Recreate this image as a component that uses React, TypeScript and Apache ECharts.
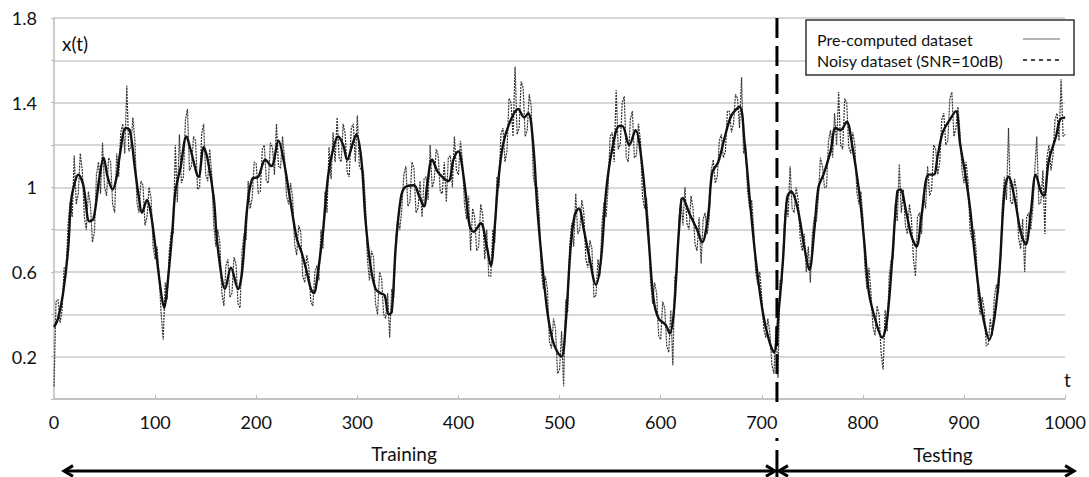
import React, { useEffect, useRef } from "react";
import * as echarts from "echarts";

// Pre-computed (clean) series: key points
const cleanT = [0, 4, 9, 14, 17, 21, 24, 29, 35, 39, 45, 49, 53, 58, 62, 65, 71, 75, 80, 84, 87, 92, 96, 101, 106, 109, 112, 117, 120, 125, 131, 135, 143, 148, 152, 158, 161, 166, 169, 175, 182, 186, 191, 196, 202, 209, 215, 222, 227, 233, 240, 245, 250, 254, 257, 261, 266, 271, 276, 281, 286, 290, 295, 299, 304, 308, 313, 318, 323, 327, 331, 334, 338, 343, 347, 356, 361, 366, 369, 374, 380, 390, 395, 400, 402, 407, 411, 415, 422, 428, 432, 436, 439, 444, 451, 459, 465, 469, 474, 478, 483, 488, 493, 498, 502, 506, 511, 515, 519, 524, 529, 536, 541, 546, 552, 559, 562, 569, 575, 582, 588, 593, 598, 605, 609, 613, 618, 622, 629, 636, 641, 647, 651, 657, 663, 670, 678, 683, 688, 694, 701, 707, 712, 717, 721, 725, 729, 735, 742, 747, 752, 756, 761, 768, 773, 778, 784, 789, 796, 801, 806, 812, 819, 824, 829, 834, 837, 843, 848, 853, 858, 865, 870, 874, 879, 886, 892, 896, 901, 906, 910, 915, 920, 925, 930, 935, 940, 944, 950, 956, 961, 966, 971, 976, 979, 984, 991, 995, 1000];
const cleanV = [0.34, 0.38, 0.5, 0.71, 0.94, 1.03, 1.06, 1.01, 0.84, 0.85, 1.05, 1.14, 1.05, 0.99, 1.05, 1.15, 1.28, 1.27, 1.09, 0.95, 0.88, 0.94, 0.87, 0.69, 0.5, 0.43, 0.53, 0.79, 0.98, 1.09, 1.24, 1.18, 1.05, 1.19, 1.13, 0.95, 0.76, 0.57, 0.52, 0.62, 0.52, 0.6, 0.9, 1.04, 1.05, 1.13, 1.1, 1.22, 1.13, 0.96, 0.76, 0.69, 0.6, 0.52, 0.5, 0.6, 0.79, 1.05, 1.18, 1.24, 1.2, 1.13, 1.2, 1.25, 1.13, 0.85, 0.63, 0.52, 0.5, 0.49, 0.4, 0.41, 0.72, 0.95, 1.0, 1.01, 0.96, 0.91, 1.01, 1.13, 1.07, 1.03, 1.13, 1.17, 1.15, 0.98, 0.82, 0.79, 0.83, 0.72, 0.63, 0.82, 1.01, 1.2, 1.31, 1.37, 1.33, 1.35, 1.2, 0.9, 0.63, 0.41, 0.28, 0.22, 0.2, 0.35, 0.72, 0.87, 0.9, 0.8, 0.68, 0.54, 0.66, 0.98, 1.18, 1.29, 1.29, 1.2, 1.27, 1.09, 0.76, 0.47, 0.38, 0.35, 0.31, 0.41, 0.79, 0.95, 0.87, 0.8, 0.74, 0.87, 1.07, 1.12, 1.23, 1.34, 1.38, 1.21, 0.95, 0.66, 0.41, 0.28, 0.22, 0.43, 0.66, 0.95, 0.98, 0.91, 0.72, 0.61, 0.8, 1.0, 1.06, 1.17, 1.28, 1.27, 1.31, 1.21, 0.99, 0.76, 0.5, 0.38, 0.29, 0.38, 0.66, 0.98, 0.99, 0.88, 0.77, 0.72, 0.87, 1.06, 1.06, 1.15, 1.26, 1.32, 1.36, 1.21, 1.07, 0.9, 0.71, 0.5, 0.36, 0.28, 0.38, 0.6, 0.98, 1.05, 0.95, 0.79, 0.73, 0.88, 1.06, 0.98, 0.96, 1.13, 1.24, 1.32, 1.33];

// Noisy series (SNR = 10 dB): one value every NOISY_STEP time steps
const NOISY_STEP = 2;
const noisyV = [
  0.06, 0.46, 0.47, 0.36, 0.42, 0.62, 0.61, 0.83, 0.93, 0.86, 1.15, 0.92, 0.97, 1.16, 1.08, 0.86, 0.8, 0.98, 0.92, 0.74, 0.79, 1.06, 1.12, 0.97, 1.21,
  1.0, 0.96, 1.14, 1.12, 0.92, 0.88, 1.16, 1.05, 1.26, 1.3, 1.16, 1.48, 1.17, 1.19, 1.33, 1.22, 0.93, 0.88, 1.03, 1.01, 0.82, 0.86, 1.0, 0.95, 0.72,
  0.66, 0.72, 0.58, 0.4, 0.28, 0.55, 0.47, 0.7, 0.79, 0.78, 1.2, 0.93, 1.25, 1.02, 1.05, 1.32, 1.37, 1.08, 1.1, 1.24, 1.22, 0.99, 1.0, 1.25, 1.3,
  1.06, 1.03, 1.18, 1.06, 0.82, 0.72, 0.8, 0.74, 0.5, 0.44, 0.63, 0.66, 0.48, 0.5, 0.67, 0.64, 0.45, 0.43, 0.7, 0.78, 0.75, 1.03, 0.9, 0.95, 1.12,
  1.11, 0.97, 0.98, 1.18, 1.2, 1.03, 1.02, 1.21, 1.19, 1.06, 1.3, 1.1, 1.09, 1.24, 1.14, 0.96, 0.92, 1.02, 0.95, 0.73, 0.68, 0.82, 0.79, 0.58, 0.55,
  0.68, 0.62, 0.46, 0.44, 0.6, 0.63, 0.56, 0.8, 0.71, 0.98, 0.88, 1.19, 1.04, 1.26, 1.12, 1.33, 1.14, 1.12, 1.3, 1.25, 1.07, 1.05, 1.28, 1.3, 1.12,
  1.34, 1.1, 1.08, 1.08, 0.92, 0.66, 0.56, 0.7, 0.67, 0.45, 0.4, 0.6, 0.57, 0.4, 0.38, 0.5, 0.29, 0.52, 0.48, 0.76, 0.86, 0.8, 0.9, 1.06, 1.1,
  0.91, 0.93, 1.12, 1.09, 0.88, 0.9, 1.03, 0.86, 1.04, 1.05, 0.94, 1.2, 1.0, 1.03, 1.18, 1.15, 0.98, 0.97, 1.12, 0.93, 1.14, 1.15, 1.0, 1.24, 1.08,
  1.06, 1.22, 1.12, 0.92, 0.85, 0.96, 0.7, 0.9, 0.86, 0.7, 0.72, 0.92, 0.87, 0.66, 0.8, 0.58, 0.58, 0.8, 0.74, 1.05, 1.0, 1.25, 1.28, 1.12, 1.17,
  1.42, 1.4, 1.24, 1.57, 1.25, 1.28, 1.5, 1.47, 1.24, 1.27, 1.44, 1.38, 1.05, 1.0, 1.0, 0.86, 0.6, 0.52, 0.58, 0.52, 0.27, 0.24, 0.38, 0.33, 0.12,
  0.14, 0.32, 0.06, 0.47, 0.41, 0.72, 0.83, 0.72, 0.97, 0.78, 0.8, 0.94, 0.88, 0.66, 0.62, 0.75, 0.71, 0.48, 0.49, 0.66, 0.58, 0.83, 0.93, 0.86, 1.0,
  1.24, 1.26, 1.12, 1.46, 1.18, 1.2, 1.4, 1.43, 1.14, 1.12, 1.32, 1.36, 1.14, 1.15, 1.3, 1.22, 0.96, 0.9, 0.95, 0.82, 0.56, 0.45, 0.55, 0.5, 0.3,
  0.28, 0.46, 0.43, 0.25, 0.22, 0.42, 0.16, 0.58, 0.6, 0.84, 0.95, 0.82, 1.0, 0.83, 0.8, 0.96, 0.9, 0.73, 0.7, 0.86, 0.64, 0.85, 0.88, 0.78, 0.85,
  1.08, 1.13, 1.02, 1.05, 1.22, 1.25, 1.14, 1.17, 1.36, 1.36, 1.26, 1.3, 1.44, 1.42, 1.28, 1.52, 1.16, 1.2, 0.98, 0.9, 0.94, 0.8, 0.6, 0.54, 0.6,
  0.48, 0.33, 0.29, 0.38, 0.31, 0.16, 0.12, 0.34, 0.1, 0.56, 0.55, 0.8, 0.93, 0.86, 1.1, 0.9, 0.88, 1.0, 0.94, 0.76, 0.7, 0.78, 0.6, 0.72, 0.55,
  0.78, 0.86, 0.84, 0.95, 1.14, 1.1, 1.0, 1.0, 1.22, 1.27, 1.14, 1.35, 1.2, 1.45, 1.2, 1.18, 1.42, 1.4, 1.19, 1.16, 1.26, 1.2, 0.98, 0.92, 0.98,
  0.86, 0.62, 0.52, 0.62, 0.5, 0.34, 0.3, 0.44, 0.4, 0.22, 0.14, 0.42, 0.32, 0.58, 0.66, 0.66, 0.92, 0.84, 1.11, 0.88, 0.99, 0.82, 0.78, 0.92, 0.85,
  0.66, 0.58, 0.86, 0.88, 0.78, 0.97, 0.9, 1.1, 0.96, 0.99, 1.2, 1.18, 1.06, 1.12, 1.32, 1.35, 1.2, 1.22, 1.42, 1.45, 1.24, 1.28, 1.38, 1.26, 1.08,
  1.02, 1.12, 1.03, 0.8, 0.75, 0.8, 0.7, 0.47, 0.4, 0.48, 0.42, 0.25, 0.26, 0.38, 0.3, 0.48, 0.54, 0.5, 0.64, 0.92, 1.05, 0.94, 1.28, 0.93, 0.92,
  1.04, 0.98, 0.76, 0.71, 0.85, 0.6, 0.86, 0.88, 0.8, 0.9, 1.08, 1.24, 0.92, 0.93, 1.08, 0.78, 1.14, 1.2, 1.08, 1.15, 1.32, 1.35, 1.22, 1.51, 1.24,
  1.25,
];

const legendNames = ["Pre-computed dataset", "Noisy dataset (SNR=10dB)"];
const yTickLabels = ["0.2", "0.6", "1", "1.4", "1.8"];
const axisNames = { y: "x(t)", x: "t" };
const phaseLabels = ["Training", "Testing"];
const splitT = 715;

const FONT = "Lato";

export default function App() {
  const ref = useRef<HTMLDivElement>(null);
  useEffect(() => {
    document.body.style.margin = "0";
    const chart = echarts.init(ref.current!, null, { renderer: "svg" });
    chart.setOption({
      animation: false,
      textStyle: { fontFamily: FONT },
      grid: { left: 54, right: 16, top: 18, bottom: 78 },
      xAxis: {
        type: "value",
        min: 0,
        max: 1000,
        interval: 100,
        axisLine: { lineStyle: { color: "#bdbdbd", width: 1.5 } },
        axisTick: { show: true, inside: true, length: 4, lineStyle: { color: "#bdbdbd" } },
        axisLabel: { color: "#111", fontSize: 18, margin: 14, fontFamily: FONT, formatter: (v: number) => String(v) },
        splitLine: { show: false },
      },
      yAxis: {
        type: "value",
        min: 0,
        max: 1.8,
        interval: 0.2,
        axisLine: { show: true, lineStyle: { color: "#bdbdbd", width: 1.5 } },
        axisTick: { show: true, length: 3, lineStyle: { color: "#bdbdbd" } },
        axisLabel: {
          color: "#111",
          fontSize: 18,
          margin: 17,
          fontFamily: FONT,
          formatter: (v: number) => {
            const s = String(Math.round(v * 10) / 10);
            return yTickLabels.includes(s) ? s : "";
          },
        },
        splitLine: { lineStyle: { color: "#cacaca", width: 1.5 } },
      },
      series: [
        {
          type: "line",
          name: legendNames[1],
          data: noisyV.map((v, i) => [i * NOISY_STEP, v]),
          showSymbol: false,
          lineStyle: { color: "#333", width: 1.2, type: [2, 1] },
          z: 1,
        },
        {
          type: "line",
          name: legendNames[0],
          data: cleanT.map((t, i) => [t, cleanV[i]]),
          showSymbol: false,
          smooth: 0.35,
          lineStyle: { color: "#111", width: 2.4 },
          z: 2,
        },
      ],
    });

    const sx = chart.convertToPixel({ xAxisIndex: 0 }, splitT) as number;
    const x0 = chart.convertToPixel({ xAxisIndex: 0 }, 0) as number;
    const x1 = chart.convertToPixel({ xAxisIndex: 0 }, 1000) as number;
    const yTop = chart.convertToPixel({ yAxisIndex: 0 }, 1.8) as number;
    const yBot = chart.convertToPixel({ yAxisIndex: 0 }, 0) as number;
    const ay = 471;
    const arrowStyle = { stroke: "#000", lineWidth: 3, fill: "none" };
    const head = 9;

    chart.setOption({
      graphic: [
        // legend box
        { type: "rect", shape: { x: 806, y: 20, width: 268, height: 55 }, style: { fill: "#fff", stroke: "#333", lineWidth: 1.5 }, z: 100 },
        { type: "text", x: 817, y: 39, style: { text: legendNames[0], fontSize: 16, fontFamily: FONT, fill: "#111", verticalAlign: "middle" }, z: 101 },
        { type: "text", x: 817, y: 60, style: { text: legendNames[1], fontSize: 16, fontFamily: FONT, fill: "#111", verticalAlign: "middle" }, z: 101 },
        { type: "line", shape: { x1: 1023, y1: 39, x2: 1060, y2: 39 }, style: { stroke: "#999", lineWidth: 1.5 }, z: 101 },
        { type: "line", shape: { x1: 1023, y1: 60, x2: 1060, y2: 60 }, style: { stroke: "#111", lineWidth: 1.5, lineDash: [4, 4] }, z: 101 },
        // axis names
        { type: "text", x: 62, y: 43, style: { text: axisNames.y, fontSize: 19, fontFamily: FONT, fill: "#111", verticalAlign: "middle" } },
        { type: "text", x: 1064, y: 379, style: { text: axisNames.x, fontSize: 19, fontFamily: FONT, fill: "#111", verticalAlign: "middle" } },
        // split line
        { type: "line", shape: { x1: sx, y1: yTop, x2: sx, y2: yBot + 3 }, style: { stroke: "#000", lineWidth: 3, lineDash: [20, 8] }, z: 50 },
        { type: "rect", shape: { x: sx - 1.5, y: 438, width: 3, height: 3 }, style: { fill: "#000" } },
        { type: "line", shape: { x1: sx, y1: 450, x2: sx, y2: 477 }, style: { stroke: "#000", lineWidth: 3 } },
        // phase labels
        { type: "text", x: 404, y: 453, style: { text: phaseLabels[0], fontSize: 19, fontFamily: FONT, fill: "#111", align: "center", verticalAlign: "middle" } },
        { type: "text", x: 943, y: 454, style: { text: phaseLabels[1], fontSize: 19, fontFamily: FONT, fill: "#111", align: "center", verticalAlign: "middle" } },
        // arrows
        { type: "line", shape: { x1: x0 + 10, y1: ay, x2: sx - 2, y2: ay }, style: arrowStyle },
        { type: "polyline", shape: { points: [[x0 + 10 + head, ay - head * 0.6], [x0 + 10, ay], [x0 + 10 + head, ay + head * 0.6]] }, style: arrowStyle },
        { type: "polyline", shape: { points: [[sx - 2 - head, ay - head * 0.6], [sx - 2, ay], [sx - 2 - head, ay + head * 0.6]] }, style: arrowStyle },
        { type: "line", shape: { x1: sx + 2, y1: ay, x2: x1 + 9, y2: ay }, style: arrowStyle },
        { type: "polyline", shape: { points: [[sx + 2 + head, ay - head * 0.6], [sx + 2, ay], [sx + 2 + head, ay + head * 0.6]] }, style: arrowStyle },
        { type: "polyline", shape: { points: [[x1 + 9 - head, ay - head * 0.6], [x1 + 9, ay], [x1 + 9 - head, ay + head * 0.6]] }, style: arrowStyle },
      ],
    });
    return () => chart.dispose();
  }, []);
  return <div ref={ref} style={{ width: 1089, height: 477 }} />;
}
